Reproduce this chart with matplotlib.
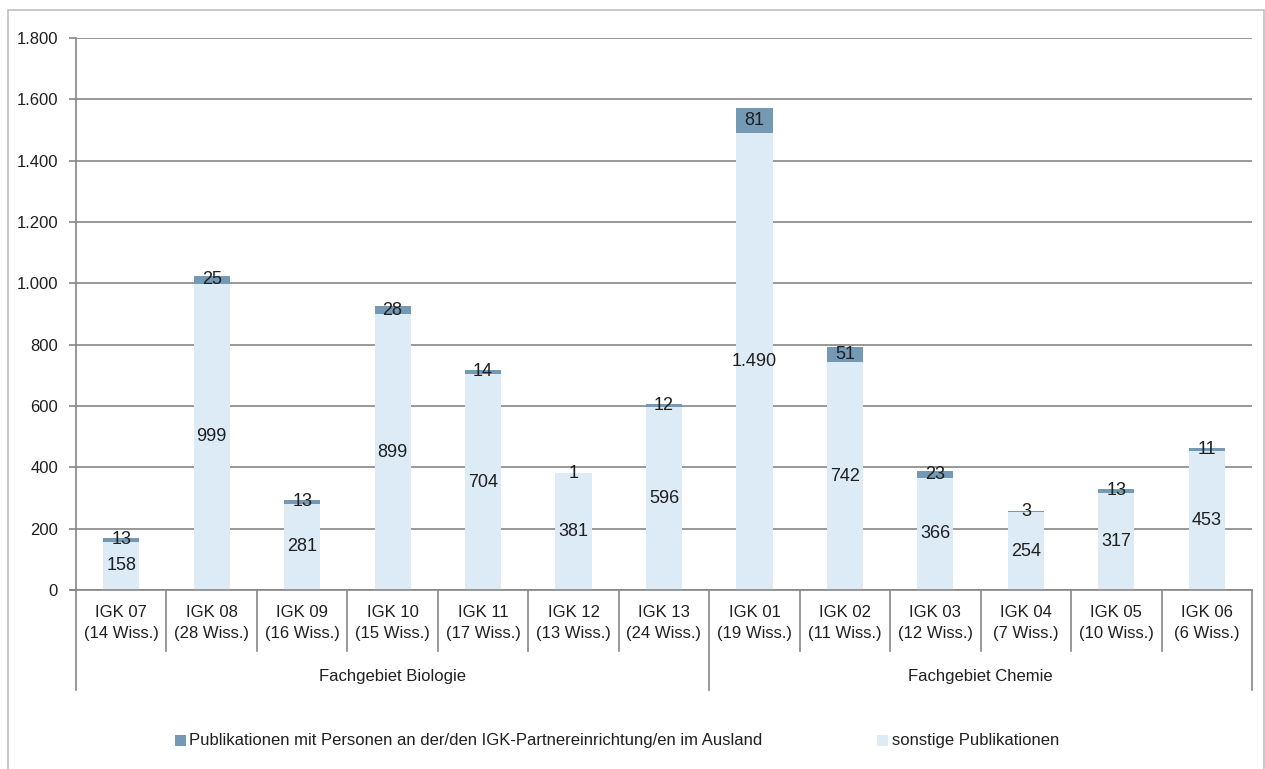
import matplotlib
matplotlib.use("Agg")
import matplotlib.pyplot as plt
from matplotlib.patches import Rectangle
import matplotlib.transforms as mtransforms

categories = ["IGK 07\n(14 Wiss.)", "IGK 08\n(28 Wiss.)", "IGK 09\n(16 Wiss.)",
              "IGK 10\n(15 Wiss.)", "IGK 11\n(17 Wiss.)", "IGK 12\n(13 Wiss.)",
              "IGK 13\n(24 Wiss.)", "IGK 01\n(19 Wiss.)", "IGK 02\n(11 Wiss.)",
              "IGK 03\n(12 Wiss.)", "IGK 04\n(7 Wiss.)", "IGK 05\n(10 Wiss.)",
              "IGK 06\n(6 Wiss.)"]
sonstige = [158, 999, 281, 899, 704, 381, 596, 1490, 742, 366, 254, 317, 453]
partner = [13, 25, 13, 28, 14, 1, 12, 81, 51, 23, 3, 13, 11]
groups = ["Fachgebiet Biologie", "Fachgebiet Chemie"]
group_sizes = [7, 6]
yticks = [0, 200, 400, 600, 800, 1000, 1200, 1400, 1600, 1800]
ytick_labels = ["0", "200", "400", "600", "800", "1.000", "1.200", "1.400", "1.600", "1.800"]
legend_labels = ["Publikationen mit Personen an der/den IGK-Partnereinrichtung/en im Ausland",
                 "sonstige Publikationen"]

FONT = ["Liberation Sans Narrow", "Liberation Sans", "DejaVu Sans"]
plt.rcParams['font.family'] = FONT

W, H = 1265, 769
fig = plt.figure(figsize=(W / 100, H / 100), dpi=100)
fig.patch.set_facecolor("white")

# outer border
fig.add_artist(Rectangle((8 / W, -0.01), (1264 - 8) / W, (H - 10) / H + 0.01,
                         transform=fig.transFigure, fill=False,
                         edgecolor="#BFBFBF", linewidth=1.2))

x0, x1 = 76, 1252
ytop, ybot = 38, 590
ax = fig.add_axes([x0 / W, (H - ybot) / H, (x1 - x0) / W, (ybot - ytop) / H])

dark = "#7399B5"
light = "#DDEBF7"
grid = "#868686"
txt = "#1F1F1F"

n = len(categories)
xs = list(range(n))
bw = 0.40
ax.bar(xs, sonstige, width=bw, color=light, zorder=2)
ax.bar(xs, partner, width=bw, bottom=sonstige, color=dark, zorder=2)

for i in xs:
    s = sonstige[i]
    p = partner[i]
    ax.text(i, s / 2, f"{s:,}".replace(",", "."), ha="center", va="center",
            fontsize=13, color=txt, zorder=3)
    ax.text(i, s + p / 2, f"{p}", ha="center", va="center",
            fontsize=13, color=txt, zorder=3)

ax.set_xlim(-0.5, n - 0.5)
ax.set_ylim(0, 1800)
ax.set_yticks(yticks)
ax.set_yticklabels(ytick_labels)
ax.yaxis.grid(True, color=grid, linewidth=1.2, zorder=0)
ax.set_axisbelow(True)
ax.tick_params(axis="y", length=5, width=1.2, color=grid, labelsize=12,
               labelcolor=txt, pad=8)
ax.tick_params(axis="x", length=0, labelbottom=False)
for sp in ["top", "right"]:
    ax.spines[sp].set_visible(False)
ax.spines["left"].set_color(grid)
ax.spines["left"].set_linewidth(1.2)
ax.spines["bottom"].set_color(grid)
ax.spines["bottom"].set_linewidth(1.2)
ax.spines["bottom"].set_bounds(-0.5 - 5 / 90.5, n - 0.5)

trans = mtransforms.blended_transform_factory(ax.transData, ax.transAxes)
ph = ybot - ytop
def ya(py):
    return (ybot - py) / ph

# category labels and separators
for i, c in enumerate(categories):
    ax.text(i, ya(623), c, transform=trans, ha="center", va="center",
            fontsize=12, color=txt, linespacing=1.5, clip_on=False)
bounds = [0]
for g in group_sizes:
    bounds.append(bounds[-1] + g)
for b in range(n + 1):
    end = 690 if b in bounds else 651
    ax.plot([b - 0.5, b - 0.5], [0, ya(end)], transform=trans, color=grid,
            linewidth=1.2, clip_on=False)
for gi, g in enumerate(groups):
    mid = (bounds[gi] + bounds[gi + 1] - 1) / 2
    ax.text(mid, ya(676), g, transform=trans, ha="center", va="center",
            fontsize=12, color=txt, clip_on=False)

# legend
ly = (H - 741) / H
fig.add_artist(Rectangle((175 / W, ly - 5 / H), 11 / W, 11 / H, transform=fig.transFigure,
                         facecolor=dark, edgecolor="none"))
fig.text(189 / W, ly, legend_labels[0], ha="left", va="center", fontsize=12, color=txt)
fig.add_artist(Rectangle((877 / W, ly - 5 / H), 11 / W, 11 / H, transform=fig.transFigure,
                         facecolor=light, edgecolor="none"))
fig.text(892 / W, ly, legend_labels[1], ha="left", va="center", fontsize=12, color=txt)

fig.savefig("out.png", dpi=100)
